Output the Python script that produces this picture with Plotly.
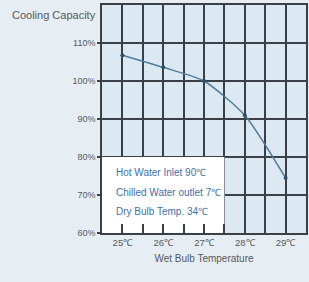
import plotly.graph_objects as go

temps = [25, 26, 27, 28, 29]
capacity = [106.8, 103.6, 100.0, 91.0, 74.5]
x_ticks = [25, 26, 27, 28, 29]
x_tick_labels = ["25℃", "26℃", "27℃", "28℃", "29℃"]
y_ticks = [60, 70, 80, 90, 100, 110]
y_tick_labels = ["60%", "70%", "80%", "90%", "100%", "110%"]
notes = ["Hot Water Inlet 90℃", "Chilled Water outlet 7℃", "Dry Bulb Temp. 34℃"]
note_y = [76.0, 70.7, 65.6]

FONT = "Liberation Sans, Arial, sans-serif"
GRID = "#3b4046"
GRAY = "#55595e"
BLUE = "#3f6fae"

fig = go.Figure()
fig.add_trace(go.Scatter(
    x=temps, y=capacity, mode="lines+markers",
    line=dict(color="#4f7e9c", width=1.5, shape="spline", smoothing=0.6),
    marker=dict(color="#2f4f66", size=4),
    showlegend=False, hoverinfo="skip",
))

fig.add_shape(type="rect", xref="x", yref="y", x0=24.5, x1=27.5, y0=60, y1=80,
              fillcolor="white", line=dict(width=0), layer="between")

for txt, yy in zip(notes, note_y):
    fig.add_annotation(
        x=24.8, y=yy, xref="x", yref="y", xanchor="left", yanchor="middle",
        text=txt, showarrow=False, align="left",
        font=dict(family=FONT, size=10, color=BLUE),
    )

fig.add_annotation(
    xref="x domain", x=-0.02, yref="paper", y=0.99, yanchor="top", xanchor="right",
    text="Cooling Capacity", showarrow=False,
    font=dict(family=FONT, size=11, color=GRAY),
)

fig.update_layout(
    width=309, height=282,
    margin=dict(l=102, r=1, t=5, b=49),
    paper_bgcolor="#e6eef4",
    plot_bgcolor="#dce8f2",
    font=dict(family=FONT, color=GRAY, size=9),
    xaxis=dict(
        range=[24.5, 29.5], tickvals=x_ticks, ticktext=x_tick_labels,
        showgrid=True, gridcolor=GRID, gridwidth=1.5,
        ticks="inside", ticklen=9, tickcolor=GRID, tickwidth=1.5,
        minor=dict(dtick=0.5, tick0=24.5, showgrid=True, gridcolor=GRID, gridwidth=1.5,
                   ticks="inside", ticklen=9, tickcolor=GRID, tickwidth=1.5),
        showline=True, linecolor=GRID, linewidth=1.5, mirror=True,
        zeroline=False,
        title=dict(text="Wet Bulb Temperature", font=dict(family=FONT, size=10, color=GRAY), standoff=8),
        tickfont=dict(family=FONT, size=9.5, color=GRAY),
    ),
    yaxis=dict(
        range=[60, 120], tickvals=y_ticks, ticktext=y_tick_labels,
        showgrid=True, gridcolor=GRID, gridwidth=1.5,
        ticks="outside", ticklen=3, tickcolor=GRID, tickwidth=1.5,
        showline=True, linecolor=GRID, linewidth=1.5, mirror=True,
        zeroline=False,
        tickfont=dict(family=FONT, size=9, color=GRAY),
    ),
)

fig.write_html("out.html", config={"displayModeBar": False},
               post_script="document.body.style.margin='0';")
